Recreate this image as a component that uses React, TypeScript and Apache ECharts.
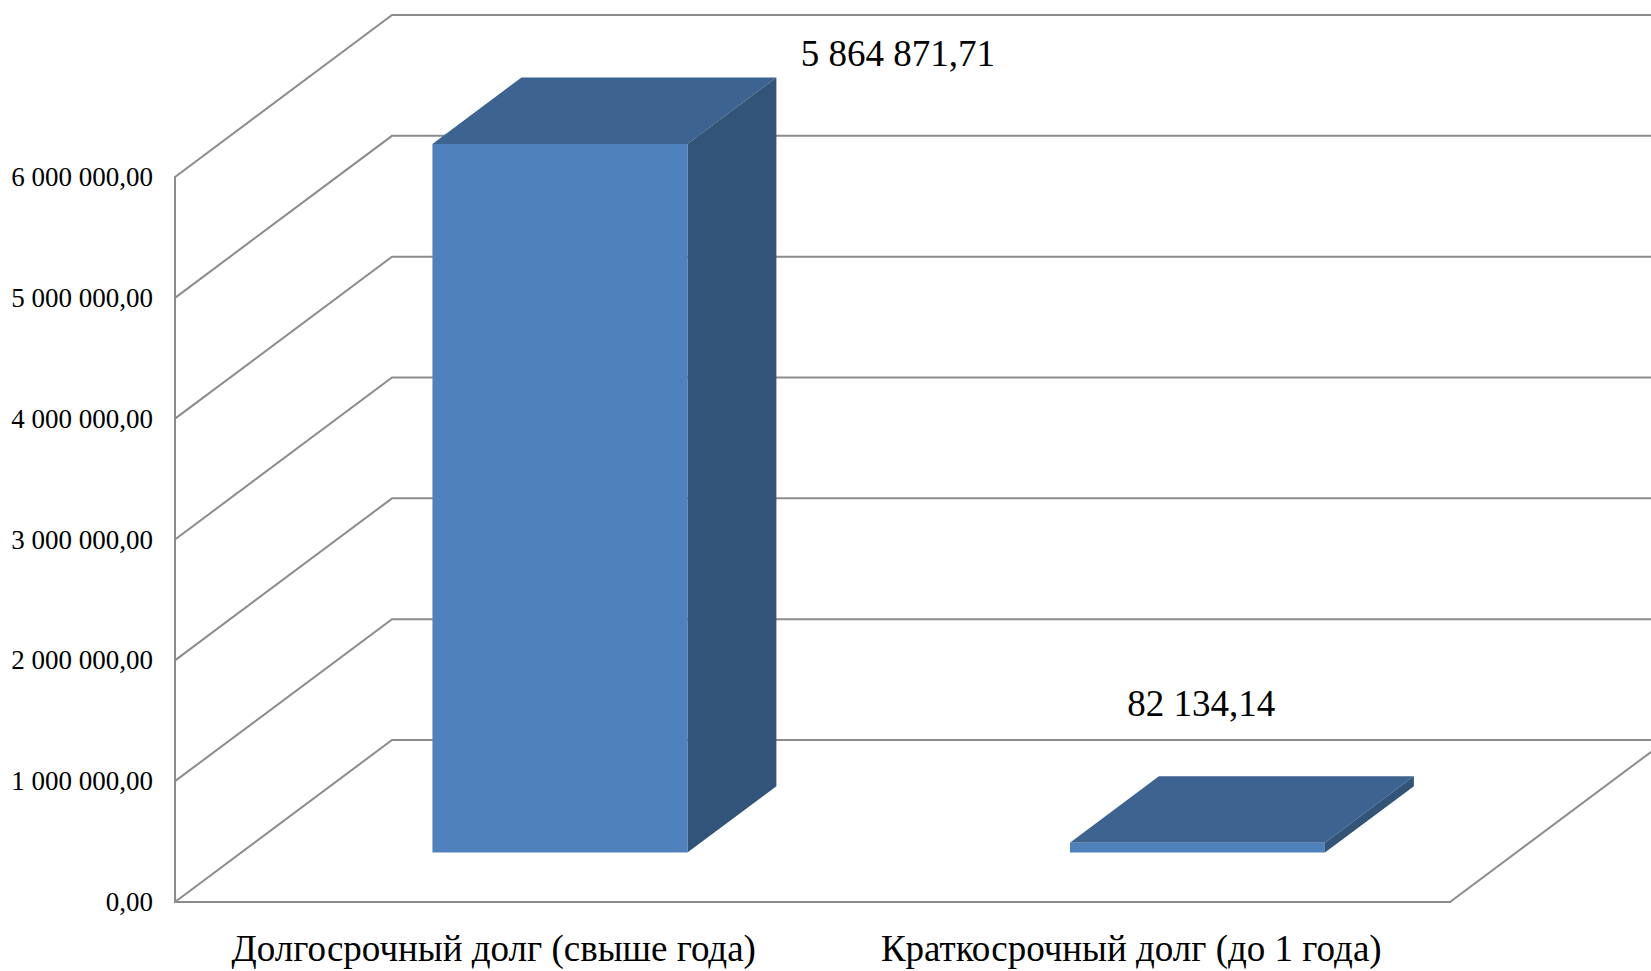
import React, { useEffect, useRef } from "react";
import * as echarts from "echarts";

const categories = ["Долгосрочный долг (свыше года)", "Краткосрочный долг (до 1 года)"];
const debtValues = [5864871.71, 82134.14];
const tickValues = [0, 1000000, 2000000, 3000000, 4000000, 5000000, 6000000];

// 3D perspective settings (pixels)
const DEPTH_DX = 217;
const DEPTH_DY = -162;
const BAR_FRONT = 0.305;
const BAR_BACK = 0.715;
const BAR_WIDTH_FRAC = 0.4;
const LABEL_OFFSETS = [
  [404, -140],
  [70, -189],
];

const SERIF = "'Liberation Serif', 'Times New Roman', serif";
const GRID_COLOR = "#8c8c8c";

function fmt(v: number): string {
  const [i, d] = v.toFixed(2).split(".");
  return i.replace(/\B(?=(\d{3})+(?!\d))/g, " ") + "," + d;
}

export default function App() {
  const ref = useRef<HTMLDivElement>(null);
  useEffect(() => {
    if (!ref.current) return;
    const chart = echarts.init(ref.current, null, { renderer: "svg" });
    const option: any = {
      animation: false,
      backgroundColor: "#ffffff",
      grid: { left: 175, right: 201, top: 177, bottom: 69, containLabel: false },
      xAxis: {
        type: "category",
        data: categories,
        axisLine: { show: true, lineStyle: { color: GRID_COLOR, width: 2 } },
        axisTick: { show: false },
        splitLine: { show: false },
        axisLabel: {
          color: "#000",
          fontFamily: SERIF,
          fontSize: 37,
          margin: 28,
          interval: 0,
          hideOverlap: false,
        },
      },
      yAxis: {
        type: "value",
        min: 0,
        max: 6000000,
        interval: 1000000,
        axisLine: { show: true, lineStyle: { color: GRID_COLOR, width: 2 } },
        axisTick: { show: false },
        splitLine: { show: false },
        axisLabel: { color: "#000", fontFamily: SERIF, fontSize: 27, margin: 22, formatter: (v: number) => fmt(v) },
      },
      series: [
        {
          type: "custom",
          z: 1,
          silent: true,
          encode: { x: 0, y: 1 },
          data: tickValues.map((v) => [0, v]),
          renderItem: (params: any, api: any) => {
            const cs = params.coordSys;
            const x0 = cs.x;
            const x1 = cs.x + cs.width;
            const y = api.coord([0, api.value(1)])[1];
            const children: any[] = [
              {
                type: "polyline",
                shape: {
                  points: [
                    [x0, y],
                    [x0 + DEPTH_DX, y + DEPTH_DY],
                    [x1 + DEPTH_DX, y + DEPTH_DY],
                  ],
                },
                style: { stroke: GRID_COLOR, lineWidth: 2, fill: "none" },
              },
            ];
            if (api.value(1) === 0) {
              children.push({
                type: "line",
                shape: { x1: x1, y1: y, x2: x1 + DEPTH_DX, y2: y + DEPTH_DY },
                style: { stroke: GRID_COLOR, lineWidth: 2 },
              });
            }
            return { type: "group", children };
          },
        },
        {
          type: "custom",
          z: 3,
          encode: { x: 0, y: 1 },
          data: debtValues.map((v, i) => [i, v]),
          renderItem: (params: any, api: any) => {
            const idx = api.value(0);
            const val = api.value(1);
            const top = api.coord([idx, val]);
            const base = api.coord([idx, 0]);
            const bw = api.size([1, 0])[0] * BAR_WIDTH_FRAC;
            const L = top[0] - bw / 2;
            const R = top[0] + bw / 2;
            const fx = BAR_FRONT * DEPTH_DX, fy = BAR_FRONT * DEPTH_DY;
            const bx = BAR_BACK * DEPTH_DX, by = BAR_BACK * DEPTH_DY;
            const yt = top[1];
            const yb = base[1];
            const off = LABEL_OFFSETS[params.dataIndex] || [0, -40];
            return {
              type: "group",
              children: [
                {
                  type: "polygon",
                  shape: {
                    points: [
                      [L + fx, yt + fy],
                      [L + bx, yt + by],
                      [R + bx, yt + by],
                      [R + fx, yt + fy],
                    ],
                  },
                  style: { fill: "#3d6390" },
                },
                {
                  type: "polygon",
                  shape: {
                    points: [
                      [R + fx, yt + fy],
                      [R + bx, yt + by],
                      [R + bx, yb + by],
                      [R + fx, yb + fy],
                    ],
                  },
                  style: { fill: "#335479" },
                },
                {
                  type: "rect",
                  shape: { x: L + fx, y: yt + fy, width: bw, height: Math.max(yb - yt, 0.5) },
                  style: { fill: "#4f81bd" },
                },
                {
                  type: "text",
                  x: top[0] + off[0],
                  y: top[1] + off[1],
                  style: {
                    text: fmt(val),
                    fill: "#000",
                    fontSize: 37,
                    fontFamily: SERIF,
                    align: "center",
                    verticalAlign: "middle",
                    textAlign: "center",
                    textVerticalAlign: "middle",
                  },
                },
              ],
            };
          },
        },
      ],
    };
    chart.setOption(option);
    return () => chart.dispose();
  }, []);
  return (
    <div
      ref={ref}
      style={{ position: "fixed", left: 0, top: 0, width: 1651, height: 971, background: "#fff" }}
    />
  );
}
